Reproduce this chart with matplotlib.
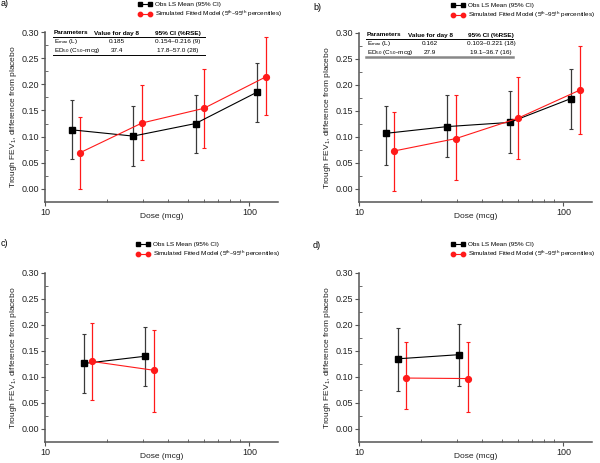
import matplotlib
matplotlib.use('Agg')
import matplotlib.pyplot as plt
import numpy as np

plt.rcParams['font.family'] = ['Liberation Sans', 'DejaVu Sans']
plt.rcParams['mathtext.default'] = 'regular'

# dose positions (mcg)
obs_dose_4 = [13.5, 27.0, 54.5, 109.0]
sim_dose_4 = [14.8, 29.8, 59.8, 120.0]
obs_dose_2 = [15.5, 31.0]
sim_dose_2 = [16.9, 34.0]

# a) obs LS mean with 95% CI, simulated fitted model with 5th-95th pct
a_obs = [0.113, 0.101, 0.125, 0.185]
a_obs_lo = [0.057, 0.044, 0.069, 0.128]
a_obs_hi = [0.170, 0.158, 0.179, 0.240]
a_sim = [0.069, 0.126, 0.154, 0.214]
a_sim_lo = [0.000, 0.055, 0.078, 0.141]
a_sim_hi = [0.138, 0.198, 0.229, 0.291]

# b)
b_obs = [0.107, 0.120, 0.128, 0.174]
b_obs_lo = [0.046, 0.061, 0.070, 0.115]
b_obs_hi = [0.160, 0.180, 0.188, 0.230]
b_sim = [0.073, 0.097, 0.136, 0.190]
b_sim_lo = [-0.003, 0.017, 0.058, 0.106]
b_sim_hi = [0.148, 0.180, 0.215, 0.275]

# c)
c_obs = [0.126, 0.140]
c_obs_lo = [0.069, 0.083]
c_obs_hi = [0.183, 0.197]
c_sim = [0.130, 0.113]
c_sim_lo = [0.056, 0.033]
c_sim_hi = [0.204, 0.191]

# d)
d_obs = [0.135, 0.143]
d_obs_lo = [0.073, 0.083]
d_obs_hi = [0.195, 0.201]
d_sim = [0.098, 0.097]
d_sim_lo = [0.038, 0.032]
d_sim_hi = [0.167, 0.167]

yticks = [0.00, 0.05, 0.10, 0.15, 0.20, 0.25, 0.30]
legend_labels = ['Obs LS Mean (95% CI)',
                 r'Simulated Fitted Model (5$^{th}$–95$^{th}$ percentiles)']

table_header = ['Parameters', 'Value for day 8', '95% CI (%RSE)']
table_names = [r'E$_{max}$ (L)', r'ED$_{50}$ (C$_{50}$–mcg)']
a_table_vals = ['0.185', '37.4']
a_table_ci = ['0.154–0.216 (9)', '17.8–57.0 (28)']
b_table_vals = ['0.162', '27.9']
b_table_ci = ['0.103–0.221 (18)', '19.1–36.7 (16)']

W, H = 600, 463
RED = '#ff1a1a'
fig = plt.figure(figsize=(6, 4.63), dpi=100)


def px(x, y):
    return x / W, 1 - y / H


def make_axes(left, top, bottom):
    l, t = px(left, top)
    _, b = px(left, bottom)
    ax = fig.add_axes([l, b, 233 / W, t - b])
    return ax


def draw_panel(ax, od, o, olo, ohi, sd, s, slo, shi):
    o = np.array(o); s = np.array(s)
    oerr = [o - np.array(olo), np.array(ohi) - o]
    serr = [s - np.array(slo), np.array(shi) - s]
    ax.errorbar(od, o, yerr=oerr, fmt='none', ecolor='#3a3a3a',
                elinewidth=0.9, capsize=1.6, capthick=0.8, zorder=2)
    ax.errorbar(sd, s, yerr=serr, fmt='none', ecolor=RED,
                elinewidth=0.9, capsize=1.6, capthick=0.8, zorder=2)
    ax.plot(od, o, color='black', marker='s', ms=3.8, lw=0.8,
            label=legend_labels[0], zorder=3)
    ax.plot(sd, s, color=RED, marker='o', ms=4.2, lw=0.8,
            label=legend_labels[1], zorder=4)
    ax.set_xscale('log')
    ax.set_xlim(10, 138)
    ax.set_ylim(-0.025, 0.30)
    ax.set_yticks(yticks)
    ax.set_yticks(np.arange(0.025, 0.30, 0.05), minor=True)
    ax.yaxis.set_major_formatter(matplotlib.ticker.FormatStrFormatter('%.2f'))
    ax.xaxis.set_major_formatter(matplotlib.ticker.FormatStrFormatter('%d'))
    ax.xaxis.set_minor_formatter(matplotlib.ticker.NullFormatter())
    for sp in ['top', 'right']:
        ax.spines[sp].set_visible(False)
    for sp in ['left', 'bottom']:
        ax.spines[sp].set_color('#555555')
        ax.spines[sp].set_linewidth(1.1)
    ax.tick_params(which='major', direction='out', length=3, width=0.8,
                   color='#555555', labelsize=6.5, pad=1.5, labelcolor='#222222')
    ax.tick_params(which='minor', direction='in', length=2, width=0.6,
                   color='#555555')
    ax.set_xlabel('Dose (mcg)', fontsize=6, color='#222222')
    ax.set_ylabel(r'Trough FEV$_1$, difference from placebo', fontsize=6,
                  color='#222222')
    ax.xaxis.set_label_coords(0.5, -0.065)
    ax.yaxis.set_label_coords(-0.11, 0.5)


def add_legend(ax, x, y):
    ax.legend(loc='upper left', bbox_to_anchor=px(x, y),
              bbox_transform=fig.transFigure, frameon=False, numpoints=2,
              fontsize=4.6, handlelength=2.1, handletextpad=0.6,
              borderpad=0, borderaxespad=0, labelspacing=0.3,
              markerscale=0.75)


def add_table(x0, x1, y0, vals, cis, bottom_rule):
    c2 = x0 + 63
    c3 = x0 + 124
    fs = 4.6
    fig.text(*px(x0, y0), table_header[0], fontsize=fs, weight='bold',
             va='center', ha='left')
    fig.text(*px(c2, y0), table_header[1], fontsize=fs, weight='bold',
             va='center', ha='center')
    fig.text(*px(c3, y0), table_header[2], fontsize=fs, weight='bold',
             va='center', ha='center')
    for i in range(2):
        yy = y0 + 8.5 + i * 9
        fig.text(*px(x0, yy), table_names[i], fontsize=fs, va='center', ha='left')
        fig.text(*px(c2, yy), vals[i], fontsize=fs, va='center', ha='center')
        fig.text(*px(c3, yy), cis[i], fontsize=fs, va='center', ha='center')
    xa, ya = px(x0 - 1, y0 + 4.3)
    xb, _ = px(x1, y0)
    fig.add_artist(plt.Line2D([xa, xb], [ya, ya], color='black', lw=0.7))
    _, yb = px(x0, y0 + 22)
    lw, col = bottom_rule
    fig.add_artist(plt.Line2D([xa, xb], [yb, yb], color=col, lw=lw))


ax_a = make_axes(45, 32, 202)
draw_panel(ax_a, obs_dose_4, a_obs, a_obs_lo, a_obs_hi,
           sim_dose_4, a_sim, a_sim_lo, a_sim_hi)
add_legend(ax_a, 138, 1.5)
add_table(54, 205, 33, a_table_vals, a_table_ci, (0.7, 'black'))

ax_b = make_axes(359, 33, 202)
draw_panel(ax_b, obs_dose_4, b_obs, b_obs_lo, b_obs_hi,
           sim_dose_4, b_sim, b_sim_lo, b_sim_hi)
add_legend(ax_b, 451, 2.5)
add_table(367, 513, 35, b_table_vals, b_table_ci, (1.8, '#888888'))

ax_c = make_axes(45, 273, 442)
draw_panel(ax_c, obs_dose_2, c_obs, c_obs_lo, c_obs_hi,
           sim_dose_2, c_sim, c_sim_lo, c_sim_hi)
add_legend(ax_c, 136, 241.5)

ax_d = make_axes(359, 273, 442)
draw_panel(ax_d, obs_dose_2, d_obs, d_obs_lo, d_obs_hi,
           sim_dose_2, d_sim, d_sim_lo, d_sim_hi)
add_legend(ax_d, 451, 241.5)

for lab, (x, y) in zip(['a)', 'b)', 'c)', 'd)'],
                       [(1, 4), (313, 7), (1, 244), (313, 245)]):
    fig.text(*px(x, y), lab, fontsize=6.5, va='center', ha='left')

fig.savefig('out.png', dpi=100)
